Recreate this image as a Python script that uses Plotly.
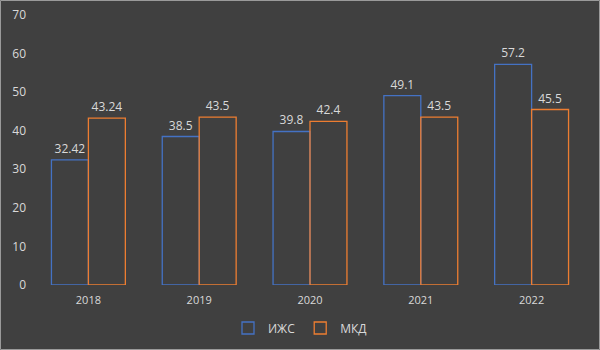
import plotly.graph_objects as go

years = ["2018", "2019", "2020", "2021", "2022"]
izhs = [32.42, 38.5, 39.8, 49.1, 57.2]
mkd = [43.24, 43.5, 42.4, 43.5, 45.5]
izhs_labels = ["32.42", "38.5", "39.8", "49.1", "57.2"]
mkd_labels = ["43.24", "43.5", "42.4", "43.5", "45.5"]

bg = "#404040"
txt = "#d9d9d9"
font = "Open Sans, Liberation Sans, Arial, sans-serif"

fig = go.Figure()
fig.add_trace(go.Bar(
    name="ИЖС", x=years, y=izhs, text=izhs_labels, textposition="outside",
    marker=dict(color="rgba(0,0,0,0)", line=dict(color="#4472C4", width=1.3)),
    textfont=dict(color=txt, size=12, family=font), cliponaxis=False,
))
fig.add_trace(go.Bar(
    name="МКД", x=years, y=mkd, text=mkd_labels, textposition="outside",
    marker=dict(color="rgba(0,0,0,0)", line=dict(color="#ED7D31", width=1.3)),
    textfont=dict(color=txt, size=12, family=font), cliponaxis=False,
))

W, H = 600, 350
ml, mr, mt, mb = 33, 13, 15, 65
pw, ph = W - ml - mr, H - mt - mb

fig.update_layout(
    width=W, height=H,
    margin=dict(l=ml, r=mr, t=mt, b=mb, autoexpand=False),
    paper_bgcolor=bg, plot_bgcolor=bg,
    barmode="group", bargap=0.333, bargroupgap=0,
    font=dict(family=font, size=11, color=txt),
    showlegend=True,
    legend=dict(orientation="h", x=0.5, xanchor="center", xref="container",
                y=22 / 350, yanchor="middle", yref="container",
                font=dict(size=12, color=txt), bgcolor="rgba(0,0,0,0)",
                itemwidth=30, tracegroupgap=0),
    xaxis=dict(showgrid=False, showline=False, ticks="", zeroline=False,
               ticklabelstandoff=7, tickfont=dict(size=11, color=txt)),
    yaxis=dict(range=[0, 70], dtick=10, showgrid=False, zeroline=False, showline=False,
               ticks="", ticklabelstandoff=6, tickfont=dict(size=12, color=txt)),
    shapes=[dict(type="rect", xref="paper", yref="paper",
                 x0=-(ml - 0.5) / pw, x1=1 + (mr - 0.5) / pw,
                 y0=-(mb - 0.5) / ph, y1=1 + (mt - 0.5) / ph,
                 line=dict(color="#9a9a9a", width=1), layer="below")],
)

fig.write_html("out.html")
